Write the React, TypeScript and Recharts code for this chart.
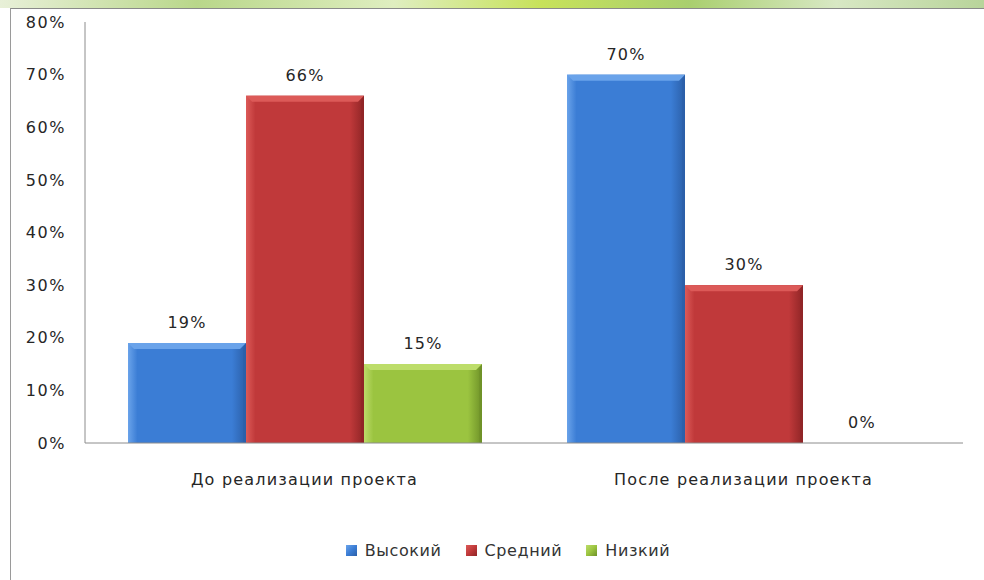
import { BarChart, Bar, XAxis, YAxis, Legend, LabelList } from "recharts";

const categories = ["До реализации проекта", "После реализации проекта"];
const high = [19, 70];
const medium = [66, 30];
const low = [15, 0];
const yTicks = [0, 10, 20, 30, 40, 50, 60, 70, 80];

const data = categories.map((name, i) => ({ name, high: high[i], medium: medium[i], low: low[i] }));

const series = [
  { key: "high", label: "Высокий", base: "#3b7dd5", light: "#6aa3ea", dark: "#2b5fa8" },
  { key: "medium", label: "Средний", base: "#c0393a", light: "#dc5a58", dark: "#8f2526" },
  { key: "low", label: "Низкий", base: "#9bc440", light: "#bddd6a", dark: "#6e9128" },
];

const font = "'DejaVu Sans', sans-serif";

const BevelBar = (p: any) => {
  const { x, y, width, height, s } = p;
  if (!height || height <= 0) return null;
  const b = Math.min(6, height / 2);
  return (
    <g>
      <rect x={x} y={y} width={width} height={height} fill={`url(#g-${s.key})`} />
      <polygon points={`${x},${y} ${x + width},${y} ${x + width - b},${y + b} ${x + b},${y + b}`} fill={s.light} />
      <polygon points={`${x + width},${y} ${x + width},${y + height} ${x + width - 3},${y + height} ${x + width - 3},${y + b}`} fill={s.dark} opacity={0.6} />
    </g>
  );
};

const LegendBox = () => (
  <div style={{ display: "flex", justifyContent: "center", gap: 24, fontFamily: font, fontSize: 16, letterSpacing: 0.6, color: "#333", height: 20, alignItems: "center" }}>
    {series.map(s => (
      <span key={s.key} style={{ display: "flex", alignItems: "center", gap: 8 }}>
        <span style={{ width: 11, height: 11, background: `linear-gradient(135deg, ${s.light}, ${s.base} 50%, ${s.dark})` }} />
        <span>{s.label}</span>
      </span>
    ))}
  </div>
);

export default function App() {
  return (
    <div style={{ position: "absolute", top: 0, left: 0, width: 984, height: 580, background: "#fff", overflow: "hidden" }}>
      <div style={{ position: "absolute", top: 0, left: 0, width: 984, height: 8, background: "linear-gradient(90deg, #e8f0d8 0%, #b9d78a 20%, #dfeec0 40%, #c7e25a 55%, #a9cf6e 70%, #d8e8c4 85%, #b8d49a 100%)" }} />
      <div style={{ position: "absolute", top: 8, left: 10, width: 990, height: 580, borderTop: "1px solid #8a8a8a", borderLeft: "1px solid #9a9a9a", background: "#fff" }}>
        <BarChart width={974} height={571} data={data} margin={{ top: 13, right: 22, bottom: 20, left: 0 }}
          barCategoryGap={43} barGap={0}>
          <defs>
            {series.map(s => (
              <linearGradient key={s.key} id={`g-${s.key}`} x1="0" y1="0" x2="1" y2="0">
                <stop offset="0%" stopColor={s.light} />
                <stop offset="8%" stopColor={s.base} />
                <stop offset="88%" stopColor={s.base} />
                <stop offset="100%" stopColor={s.dark} />
              </linearGradient>
            ))}
          </defs>
          <XAxis dataKey="name" height={97} axisLine={{ stroke: "#8c8c8c" }} tickLine={false} tickSize={6} tickMargin={25}
            tick={{ fill: "#262626", fontSize: 16, fontFamily: font, letterSpacing: 1.2 }} />
          <YAxis type="number" domain={[0, 80]} ticks={yTicks} width={74} axisLine={{ stroke: "#8c8c8c" }} tickLine={false}
            tickSize={6} tickMargin={13} tickFormatter={(v: number) => `${v}%`}
            tick={{ fill: "#262626", fontSize: 16, fontFamily: font, letterSpacing: 1.6 }} />
          <Legend verticalAlign="bottom" content={<LegendBox />} wrapperStyle={{ left: 0, width: 994 }} />
          {series.map(s => (
            <Bar key={s.key} dataKey={s.key} name={s.label} fill={s.base} isAnimationActive={false}
              shape={(p: any) => <BevelBar {...p} s={s} />}>
              <LabelList dataKey={s.key} position="top" offset={15} formatter={(v: any) => `${v}%`}
                style={{ fill: "#262626", fontSize: 16, fontFamily: font, letterSpacing: 1.2 }} />
            </Bar>
          ))}
        </BarChart>
      </div>
    </div>
  );
}
